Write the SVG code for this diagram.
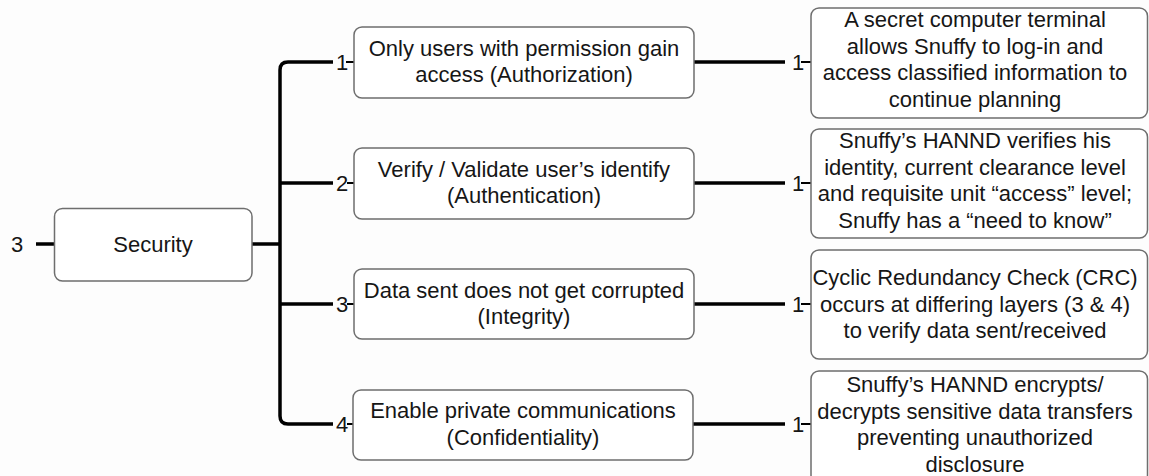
<svg xmlns="http://www.w3.org/2000/svg" width="1149" height="476" viewBox="0 0 1149 476">
<style>
.box{fill:#fff;stroke:#6e6e6e;stroke-width:1.5}
.t{font-family:"Liberation Sans",Arial,sans-serif;font-size:22px;fill:#161616;text-anchor:middle}
.lbl{font-family:"Liberation Sans",Arial,sans-serif;font-size:22px;fill:#161616}
.c{fill:none;stroke:#000;stroke-width:3.5;stroke-linecap:butt}
.tick{fill:none;stroke:#000;stroke-width:2}
</style>
<rect width="1149" height="476" fill="#fdfdfd"/>
<g id="connectors">
<line class="c" x1="36" y1="244" x2="55" y2="244"/>
<line class="c" x1="252" y1="244" x2="280" y2="244"/>
<path class="c" d="M333 62 H288 Q280 62 280 70 V416 Q280 424 288 424 H333"/>
<line class="c" x1="280" y1="183" x2="333" y2="183"/>
<line class="c" x1="280" y1="304" x2="333" y2="304"/>
<line class="tick" x1="346" y1="62" x2="354" y2="62"/>
<line class="tick" x1="347" y1="183" x2="354" y2="183"/>
<line class="tick" x1="347" y1="304" x2="354" y2="304"/>
<line class="tick" x1="347" y1="424" x2="354" y2="424"/>
<line class="c" x1="694" y1="62" x2="785" y2="62"/>
<line class="c" x1="694" y1="183" x2="785" y2="183"/>
<line class="c" x1="694" y1="304" x2="785" y2="304"/>
<line class="c" x1="693" y1="424" x2="785" y2="424"/>
<line class="tick" x1="801" y1="62" x2="811" y2="62"/>
<line class="tick" x1="801" y1="183" x2="811" y2="183"/>
<line class="tick" x1="801" y1="304" x2="811" y2="304"/>
<line class="tick" x1="801" y1="424" x2="811" y2="424"/>
<text class="lbl" x="11" y="252">3</text>
<text class="lbl" x="336" y="70">1</text>
<text class="lbl" x="336" y="191">2</text>
<text class="lbl" x="336" y="312">3</text>
<text class="lbl" x="336" y="432">4</text>
<text class="lbl" x="792" y="70">1</text>
<text class="lbl" x="792" y="191">1</text>
<text class="lbl" x="792" y="312">1</text>
<text class="lbl" x="792" y="432">1</text>
</g>
<g id="security">
<rect class="box" x="54.5" y="208.5" width="197.5" height="72.5" rx="8"/>
<text class="t" x="153" y="252">Security</text>
</g>
<g id="authorization">
<rect class="box" x="354" y="27" width="340" height="71" rx="8"/>
<text class="t" x="524" y="56">Only users with permission gain</text>
<text class="t" x="524" y="82">access (Authorization)</text>
</g>
<g id="authentication">
<rect class="box" x="354" y="148" width="340" height="71" rx="8"/>
<text class="t" x="524" y="177">Verify / Validate user’s identify</text>
<text class="t" x="524" y="203">(Authentication)</text>
</g>
<g id="integrity">
<rect class="box" x="354" y="269" width="340" height="70" rx="8"/>
<text class="t" x="524" y="298">Data sent does not get corrupted</text>
<text class="t" x="524" y="324">(Integrity)</text>
</g>
<g id="confidentiality">
<rect class="box" x="353" y="390" width="340" height="70" rx="8"/>
<text class="t" x="523" y="418">Enable private communications</text>
<text class="t" x="523" y="445">(Confidentiality)</text>
</g>
<g id="terminal">
<rect class="box" x="811" y="8" width="336.5" height="110" rx="8"/>
<text class="t" x="975" y="27">A secret computer terminal</text>
<text class="t" x="975" y="53.5">allows Snuffy to log-in and</text>
<text class="t" x="975" y="80">access classified information to</text>
<text class="t" x="975" y="106.5">continue planning</text>
</g>
<g id="hannd-verify">
<rect class="box" x="811" y="129" width="336.5" height="109" rx="8"/>
<text class="t" x="975" y="148">Snuffy’s HANND verifies his</text>
<text class="t" x="975" y="174.5">identity, current clearance level</text>
<text class="t" x="975" y="201">and requisite unit “access” level;</text>
<text class="t" x="975" y="227.5">Snuffy has a “need to know”</text>
</g>
<g id="crc">
<rect class="box" x="811" y="250" width="336.5" height="109" rx="8"/>
<text class="t" x="975" y="285">Cyclic Redundancy Check (CRC)</text>
<text class="t" x="975" y="311.5">occurs at differing layers (3 &amp; 4)</text>
<text class="t" x="975" y="338">to verify data sent/received</text>
</g>
<g id="hannd-encrypt">
<rect class="box" x="811" y="371" width="336.5" height="112" rx="8"/>
<text class="t" x="975" y="392">Snuffy’s HANND encrypts/</text>
<text class="t" x="975" y="418.5">decrypts sensitive data transfers</text>
<text class="t" x="975" y="445">preventing unauthorized</text>
<text class="t" x="975" y="471.5">disclosure</text>
</g>
</svg>
